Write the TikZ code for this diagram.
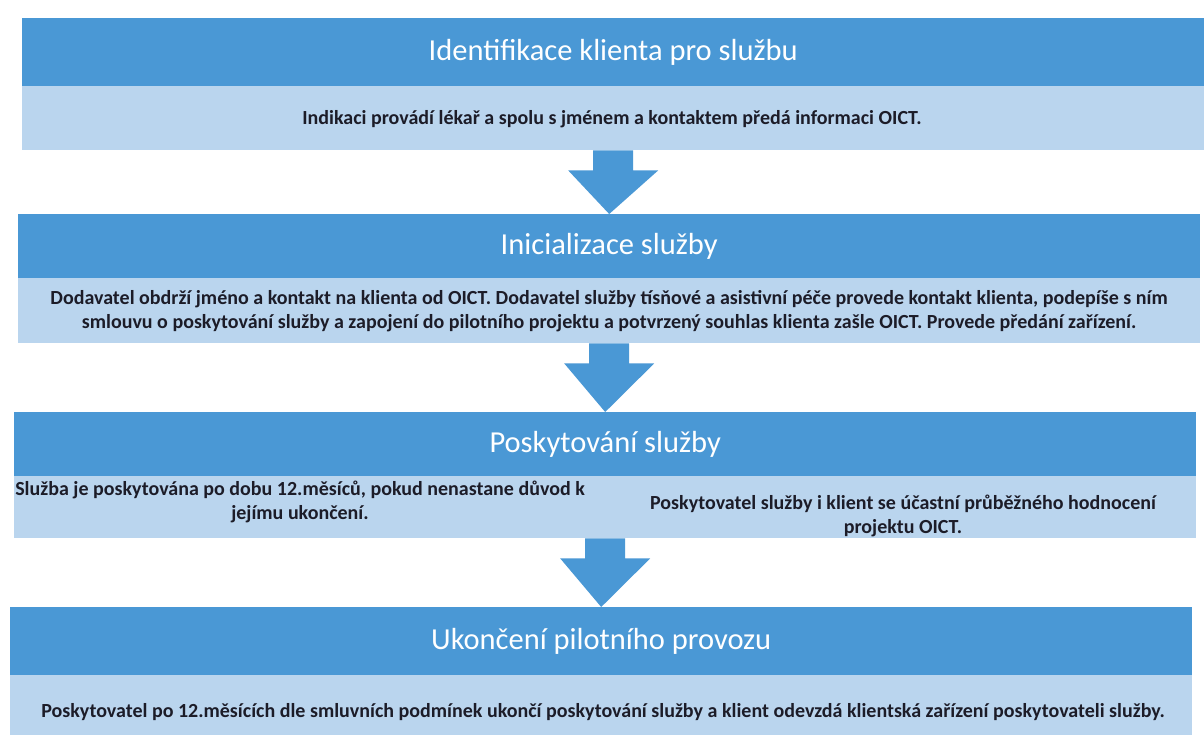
\documentclass[tikz,border=0pt]{standalone}
\usepackage{fontspec}
\setmainfont{Carlito}
\usetikzlibrary{calc}
\definecolor{hdrc}{HTML}{4A98D5}
\definecolor{bdyc}{HTML}{BAD5EE}
\definecolor{txtc}{HTML}{1C1C28}
\tikzset{
  hdr/.style={rectangle, fill=hdrc, inner sep=0pt, anchor=north west, text=white,
    font=\fontsize{30.5}{34}\selectfont, minimum width=1182pt},
  bdy/.style={rectangle, fill=bdyc, inner sep=0pt, anchor=north west, minimum width=1182pt},
  btxt/.style={inner sep=0pt, text=txtc, font=\fontsize{20}{23.5}\selectfont\bfseries, align=center},
  fatarrow/.style={fill=hdrc, draw=none}
}
\newcommand{\fatarr}[2]{%
  \fill[fatarrow] ($(#1.south)+(-20,0)$) -- ($(#1.south)+(20,0)$) --
    ($(#1.south)+(20,20)$) -- ($(#1.south)+(45,20)$) -- (#2.north) --
    ($(#1.south)+(-45,20)$) -- ($(#1.south)+(-20,20)$) -- cycle;}
\begin{document}
\begin{tikzpicture}[x=1pt,y=-1pt]
\useasboundingbox (0,0) rectangle (1204,740);
\fill[white] (0,0) rectangle (1204,740);
% block 1
\node[hdr, minimum height=68pt] (h1) at (22,18) {Identifikace klienta pro službu};
\node[bdy, minimum height=64pt] (b1) at (22,86) {};
\node[btxt] (t1) at (612,119) {Indikaci provádí lékař a spolu s jménem a kontaktem předá informaci OICT.};
% block 2
\node[hdr, minimum height=64pt] (h2) at (18,214) {Inicializace služby};
\node[bdy, minimum height=65pt] (b2) at (18,278) {};
\node[btxt] (t2) at (609,311) {Dodavatel obdrží jméno a kontakt na klienta od OICT. Dodavatel služby tísňové a asistivní péče provede kontakt klienta, podepíše s ním\\ smlouvu o poskytování služby a zapojení do pilotního projektu a potvrzený souhlas klienta zašle OICT. Provede předání zařízení.};
% block 3
\node[hdr, minimum height=64pt] (h3) at (14,412) {Poskytování služby};
\node[bdy, minimum height=62pt] (b3) at (14,476) {};
\node[btxt] (t3l) at (300,502) {Služba je poskytována po dobu 12.měsíců, pokud nenastane důvod k\\ jejímu ukončení.};
\node[btxt] (t3r) at (903,516) {Poskytovatel služby i klient se účastní průběžného hodnocení\\ projektu OICT.};
% block 4
\node[hdr, minimum height=68pt] (h4) at (10,607) {Ukončení pilotního provozu};
\node[bdy, minimum height=60pt] (b4) at (10,675) {};
\node[btxt] (t4) at (603,712) {Poskytovatel po 12.měsících dle smluvních podmínek ukončí poskytování služby a klient odevzdá klientská zařízení poskytovateli služby.};
% arrows
\fatarr{b1}{h2}
\fatarr{b2}{h3}
\fatarr{b3}{h4}
\end{tikzpicture}
\end{document}
